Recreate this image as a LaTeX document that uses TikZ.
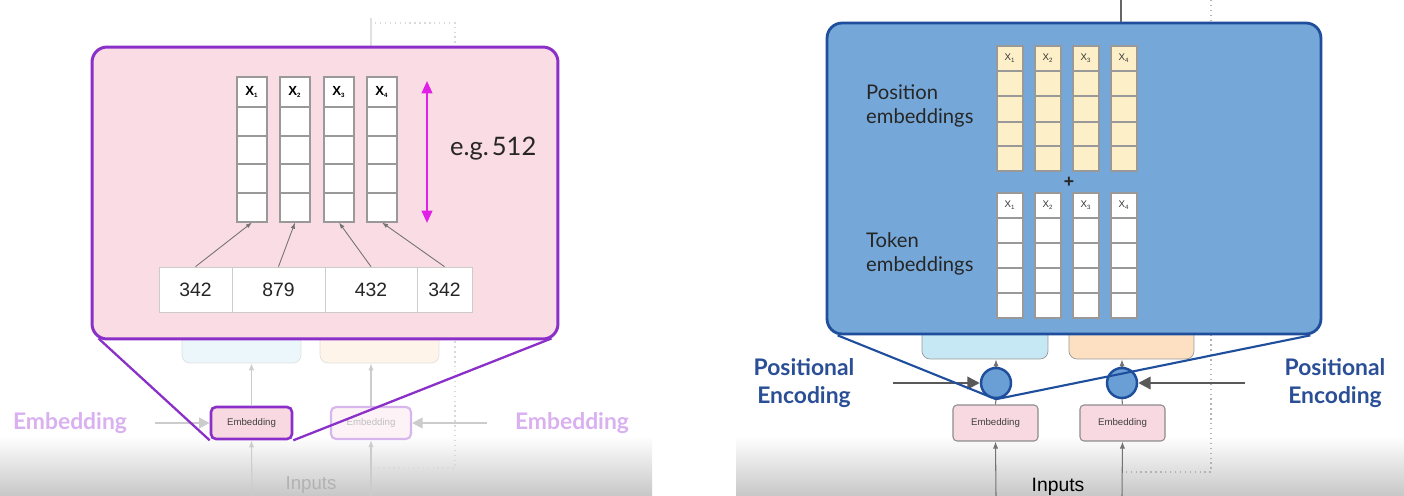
\documentclass[tikz,border=0pt]{standalone}
\usepackage{fontspec}
\setmainfont{Liberation Sans}
\newfontfamily\latofont{Lato}
\usepackage{xcolor}
\usepackage{tikz}
\usetikzlibrary{arrows.meta, positioning, calc}
\definecolor{PinkFill}{HTML}{F9DCE4}
\definecolor{ZoomPurple}{HTML}{8B2FC9}
\definecolor{LabelLilac}{HTML}{D9B0F0}
\definecolor{DimMagenta}{HTML}{E020E6}
\definecolor{BlueFill}{HTML}{75A8D8}
\definecolor{BlueEdge}{HTML}{1E4E9C}
\definecolor{AdderFill}{HTML}{6A9FD6}
\definecolor{PosYellow}{HTML}{FDF0C9}
\definecolor{TextNavy}{HTML}{2A4F96}
\definecolor{EmbPink}{HTML}{F8D8E1}
\definecolor{LightCyan}{HTML}{C6E8F5}
\definecolor{LightPeach}{HTML}{FDE0C2}

\tikzset{
  vecbox/.style={draw=black!40, fill=white, line width=0.6pt, inner sep=0pt},
  cellline/.style={draw=black!40, line width=0.6pt},
  xlabel/.style={font=\fontsize{7.5}{8}\selectfont\bfseries},
  xsmall/.style={font=\fontsize{5.5}{6}\selectfont, text=black!80},
  idcell/.style={draw=black!20, fill=white, minimum height=0.9cm, inner sep=0pt,
    font=\fontsize{11}{13}\selectfont, text=black!85},
  idarrow/.style={draw=black!55, line width=0.5pt, -{Latex[length=3.5pt,width=2.5pt]}},
  embbox/.style={draw=black!45, fill=EmbPink, rounded corners=0.08cm, line width=0.6pt,
    minimum width=1.7cm, minimum height=0.72cm, font=\fontsize{5.5}{6}\selectfont, text=black!75},
  fadearrow/.style={draw=black!20, line width=0.6pt, -{Latex[length=4pt,width=3pt]}},
  inarrow/.style={draw=black!55, line width=0.6pt, -{Latex[length=4pt,width=3pt]}},
  pearrow/.style={draw=black!65, line width=1.4pt, -{Triangle[length=7pt,width=7pt]}},
  bigtext/.style={font=\latofont\bfseries\fontsize{13}{15.9}\selectfont, align=center},
}
\newcommand{\vsub}[1]{\textsubscript{\fontsize{3.5}{4}\selectfont #1}}

\begin{document}
\begin{tikzpicture}[x=0.02cm, y=-0.02cm]
  % canvas and the grey fade at the foot of each slide
  \fill[white] (0,0) rectangle (1404,496);
  \useasboundingbox (0,0) rectangle (1404,496);
  \shade[top color=white, bottom color=black!22] (0,436) rectangle (652,496);
  \shade[top color=white, bottom color=black!22] (736,436) rectangle (1404,496);

  %% ---------------- left slide ----------------
  % faded encoder behind the zoom box
  \draw[black!12, line width=1.2pt] (371,18) -- (371,47);
  \draw[black!15, dotted, line width=0.8pt] (375,23) -- (455,23) -- (455,468) -- (372,468);
  \node[draw=black!12, fill=LightCyan!35, rounded corners=0.16cm, minimum width=2.38cm,
    minimum height=0.96cm] (lfadeA) at (241.5,339) {};
  \node[draw=black!12, fill=LightPeach!35, rounded corners=0.16cm, minimum width=2.38cm,
    minimum height=0.96cm] (lfadeB) at (379.5,339) {};
  \node[draw=ZoomPurple, line width=1.5pt, fill=EmbPink, rounded corners=0.1cm,
    minimum width=1.62cm, minimum height=0.64cm, font=\fontsize{5.5}{6}\selectfont,
    text=black!75] (lemb1) at (251.5,423) {Embedding};
  \node[draw=ZoomPurple!35, line width=1.2pt, fill=EmbPink!30, rounded corners=0.1cm,
    minimum width=1.6cm, minimum height=0.64cm, font=\fontsize{5.5}{6}\selectfont,
    text=black!25] (lemb2) at (371,423) {Embedding};
  \draw[fadearrow] (lemb1.north) -- (lemb1.north |- lfadeA.south);
  \draw[fadearrow] (lemb2.north) -- (lemb2.north |- lfadeB.south);
  \coordinate (lin1) at (252,496);
  \coordinate (lin2) at (371,496);
  \draw[fadearrow] (lin1) -- (lemb1.south);
  \draw[fadearrow] (lin2) -- (lemb2.south);
  \coordinate (lside1) at (155,423);
  \coordinate (lside2) at (487,423);
  \draw[draw=black!20, line width=1.2pt, -{Triangle[length=6pt,width=6pt]}] (lside1) -- (lemb1.west);
  \draw[draw=black!20, line width=1.2pt, -{Triangle[length=6pt,width=6pt]}] (lside2) -- (lemb2.east);
  \node[font=\fontsize{10.6}{12}\selectfont, text=black!30] (linputs) at (311,485) {Inputs};
  \node[bigtext, text=LabelLilac] (llabel1) at (70,423) {Embedding};
  \node[bigtext, text=LabelLilac] (llabel2) at (572,423) {Embedding};

  % zoom box
  \node[draw=ZoomPurple, line width=1.7pt, fill=PinkFill, rounded corners=0.3cm,
    minimum width=9.32cm, minimum height=5.84cm] (pinkbox) at (325,193) {};
  \draw[ZoomPurple, line width=1.3pt] ($(pinkbox.south west)+(8,-2)$) -- (lemb1.south west);
  \draw[ZoomPurple, line width=1.3pt] ($(pinkbox.south east)+(-8,-2)$) -- (lemb1.south east);

  % word vectors
  \foreach \i/\cx in {1/252, 2/295, 3/339, 4/382} {
    \node[vecbox, minimum width=0.6cm, minimum height=2.9cm] (tokvec\i) at (\cx,149.5) {};
    \node[xlabel] (tokx\i) at (\cx,92) {X\vsub{\i}};
    \foreach \ry in {107, 136, 164, 193}
      \draw[cellline] (\cx-15,\ry) -- (\cx+15,\ry);
  }
  % token ids
  \foreach \i/\cx/\w/\v in {1/195.5/1.46/342, 2/278.5/1.86/879, 3/371/1.84/432, 4/444.5/1.10/342}
    \node[idcell, minimum width=\w cm] (tokid\i) at (\cx,289.5) {\v};
  \foreach \i in {1,...,4}
    \draw[idarrow] (tokid\i.north) -- (tokvec\i.south);
  % dimension
  \coordinate (dimtop) at (427,81);
  \coordinate (dimbot) at (427,223);
  \draw[DimMagenta, line width=1.3pt, {Triangle[length=7pt,width=6pt]}-{Triangle[length=7pt,width=6pt]}] (dimtop) -- (dimbot);
  \node[font=\latofont\fontsize{14.5}{18}\selectfont, text=black!85, anchor=west] (dimtext) at (444,149) {e.g.\hspace{0.12em}512};

  %% ---------------- right slide ----------------
  \coordinate (rtop) at (1121,0);
  \draw[black!30, dotted, line width=0.8pt] (1211,0) -- (1211,472) -- (1123,472);
  \node[draw=black!40, fill=LightCyan, rounded corners=0.16cm, minimum width=2.52cm,
    minimum height=0.98cm] (rfadeA) at (985,334.5) {};
  \node[draw=black!40, fill=LightPeach, rounded corners=0.16cm, minimum width=2.5cm,
    minimum height=0.98cm] (rfadeB) at (1131.5,334.5) {};
  \node[circle, draw=BlueEdge, line width=1.4pt, fill=AdderFill, minimum size=0.6cm,
    inner sep=0pt] (adder1) at (996,383) {};
  \node[circle, draw=BlueEdge, line width=1.4pt, fill=AdderFill, minimum size=0.6cm,
    inner sep=0pt] (adder2) at (1122,383) {};
  \node[embbox] (remb1) at (995.5,423) {Embedding};
  \node[embbox] (remb2) at (1122.5,423) {Embedding};
  \draw[inarrow] (adder1.north) -- (adder1.north |- rfadeA.south);
  \draw[inarrow] (adder2.north) -- (adder2.north |- rfadeB.south);
  \draw[black!55, line width=0.6pt] (remb1.north) -- (adder1.south);
  \draw[black!55, line width=0.6pt] (remb2.north) -- (adder2.south);
  \coordinate (rin1) at (996,496);
  \coordinate (rin2) at (1122,496);
  \draw[inarrow] (rin1) -- (remb1.south);
  \draw[inarrow] (rin2) -- (remb2.south);
  \coordinate (peL) at (893,383);
  \coordinate (peR) at (1245,383);
  \draw[pearrow] (peL) -- (adder1.west);
  \draw[pearrow] (peR) -- (adder2.east);
  \node[font=\fontsize{11}{13}\selectfont] (rinputs) at (1058,487) {Inputs};
  \node[bigtext, text=TextNavy] (rlabel1) at (804,383) {Positional\\Encoding};
  \node[bigtext, text=TextNavy] (rlabel2) at (1335,383) {Positional\\Encoding};

  % zoom box
  \node[draw=BlueEdge, line width=1.6pt, fill=BlueFill, rounded corners=0.3cm,
    minimum width=9.88cm, minimum height=6.22cm] (bluebox) at (1074,178.5) {};
  \draw[black!60, line width=1pt] (rtop) -- (rtop |- bluebox.north);
  \draw[BlueEdge, line width=1.2pt] ($(bluebox.south west)+(12,0)$) -- (adder1.south);
  \draw[BlueEdge, line width=1.2pt] ($(bluebox.south east)+(-12,0)$) -- (adder1.south);

  % position and token vectors
  \foreach \i/\cx in {1/1010, 2/1048, 3/1086, 4/1124} {
    \node[vecbox, fill=PosYellow, minimum width=0.52cm, minimum height=2.5cm] (posvec\i) at (\cx,108.5) {};
    \node[xsmall] (posx\i) at (\cx,58.5) {X\vsub{\i}};
    \foreach \ry in {71, 96, 122, 146}
      \draw[cellline] (\cx-13,\ry) -- (\cx+13,\ry);
    \node[vecbox, minimum width=0.52cm, minimum height=2.5cm] (wrdvec\i) at (\cx,255.5) {};
    \node[xsmall] (wrdx\i) at (\cx,205.5) {X\vsub{\i}};
    \foreach \ry in {218, 243, 268, 293}
      \draw[cellline] (\cx-13,\ry) -- (\cx+13,\ry);
  }
  \node[font=\fontsize{10}{12}\selectfont\bfseries, text=black!85] (plus) at (1069,182) {+};
  \node[font=\latofont\fontsize{11.5}{13.6}\selectfont, align=left, anchor=west, text=black!85] (poslabel) at (860,106) {Position\\embeddings};
  \node[font=\latofont\fontsize{11.5}{13.6}\selectfont, align=left, anchor=west, text=black!85] (wrdlabel) at (860,254) {Token\\embeddings};
\end{tikzpicture}
\end{document}
